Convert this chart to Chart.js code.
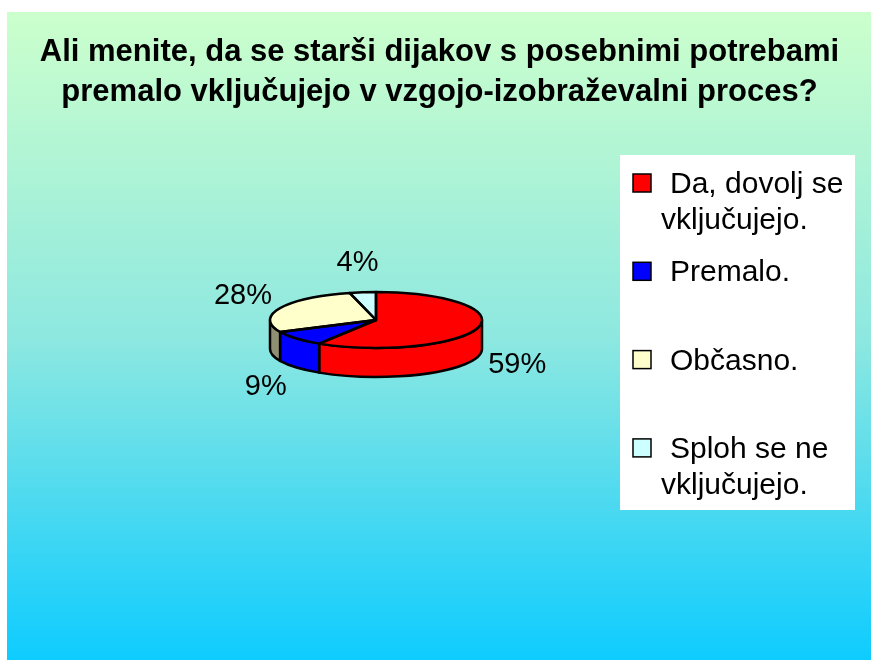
<!DOCTYPE html>
<html>
<head>
<meta charset="utf-8">
<script src="https://cdn.jsdelivr.net/npm/chart.js@4.4.0/dist/chart.umd.min.js"></script>
<style>
  html, body { margin: 0; padding: 0; background: #fff; }
  #wrap { width: 871px; height: 660px; }
</style>
</head>
<body>
<div id="wrap"><canvas id="chart" width="871" height="660"></canvas></div>
<script>
// chart data
const titleLines = [
    'Ali menite, da se starši dijakov s posebnimi potrebami',
    'premalo vključujejo v vzgojo-izobraževalni proces?'
];
const answers = ['Da, dovolj se vključujejo.', 'Premalo.', 'Občasno.', 'Sploh se ne vključujejo.'];
const shares = [59, 9, 28, 4];

// styles
const sliceColors = ['#ff0000', '#0000ff', '#ffffcc', '#ccffff'];
const sideColors = ['#ff0000', '#0000ff', '#8f8f73', '#99cccc'];
const FONT = '"Liberation Sans", Arial, sans-serif';

// where the tilted pie sits on the slide
const PIE = {cx: 376, cy: 320, rx: 106, ry: 28, depth: 29};

/**
 * Splits a label into lines no wider than maxWidth.
 */
function wrapText(ctx, text, maxWidth) {
    const words = text.split(' ');
    const lines = [];
    let line = '';
    words.forEach(word => {
        const test = line ? line + ' ' + word : word;
        if (line && ctx.measureText(test).width > maxWidth) {
            lines.push(line);
            line = word;
        } else {
            line = test;
        }
    });
    if (line) lines.push(line);
    return lines;
}

/**
 * Returns the parts of [s, e] that face the viewer (lower half of the pie).
 */
function frontParts(s, e) {
    const parts = [];
    for (const base of [-2 * Math.PI, 0, 2 * Math.PI]) {
        const a = Math.max(s, base);
        const b = Math.min(e, base + Math.PI);
        if (b > a) parts.push([a, b]);
    }
    return parts;
}

const slideBackground = {
    id: 'slideBackground',
    beforeDraw(chart) {
        const {ctx, width, height} = chart;
        ctx.save();
        ctx.fillStyle = '#fff';
        ctx.fillRect(0, 0, width, height);
        const g = ctx.createLinearGradient(0, 12, 0, height);
        g.addColorStop(0, '#ccffcc');
        g.addColorStop(0.5, '#8ee8e0');
        g.addColorStop(1, '#0eccff');
        ctx.fillStyle = g;
        ctx.fillRect(7, 12, width - 7, height - 12);
        ctx.restore();
    }
};

const pie3d = {
    id: 'pie3d',
    beforeDatasetsDraw(chart) {
        const {ctx} = chart;
        const arcs = chart.getDatasetMeta(0).data;
        const {cx, cy, rx, ry, depth} = PIE;
        // sides first, so the top face covers them
        ctx.save();
        ctx.lineWidth = 2.5;
        ctx.strokeStyle = '#000';
        ctx.lineJoin = 'round';
        arcs.forEach((arc, i) => {
            frontParts(arc.startAngle, arc.endAngle).forEach(([a, b]) => {
                ctx.beginPath();
                ctx.ellipse(cx, cy, rx, ry, 0, a, b);
                ctx.lineTo(cx + rx * Math.cos(b), cy + ry * Math.sin(b) + depth);
                ctx.ellipse(cx, cy + depth, rx, ry, 0, b, a, true);
                ctx.closePath();
                ctx.fillStyle = sideColors[i];
                ctx.fill();
                ctx.stroke();
            });
        });
        ctx.restore();
        // squash the library's flat pie into the tilted top face
        ctx.save();
        ctx.translate(cx, cy);
        ctx.scale(1, ry / rx);
        ctx.translate(-arcs[0].x, -arcs[0].y);
    },
    afterDatasetsDraw(chart) {
        const {ctx} = chart;
        ctx.restore();
        const arcs = chart.getDatasetMeta(0).data;
        const values = chart.data.datasets[0].data;
        const {cx, cy, rx, ry, depth} = PIE;
        ctx.save();
        ctx.lineWidth = 2.5;
        ctx.strokeStyle = '#000';
        ctx.lineJoin = 'round';
        arcs.forEach(arc => {
            ctx.beginPath();
            ctx.moveTo(cx, cy);
            ctx.lineTo(cx + rx * Math.cos(arc.startAngle), cy + ry * Math.sin(arc.startAngle));
            ctx.ellipse(cx, cy, rx, ry, 0, arc.startAngle, arc.endAngle);
            ctx.closePath();
            ctx.stroke();
        });
        ctx.fillStyle = '#000';
        ctx.font = `29px ${FONT}`;
        ctx.textAlign = 'center';
        ctx.textBaseline = 'middle';
        arcs.forEach((arc, i) => {
            const mid = (arc.startAngle + arc.endAngle) / 2;
            const s = Math.sin(mid);
            const x = cx + 147 * Math.cos(mid);
            const y = cy + 57 * s + (s > 0 ? depth : 0);
            ctx.fillText(values[i] + '%', x, y);
        });
        ctx.restore();
    }
};

const sideLegend = {
    id: 'sideLegend',
    afterDraw(chart) {
        const {ctx} = chart;
        ctx.save();
        ctx.fillStyle = '#fff';
        ctx.fillRect(620, 155, 235, 355);
        ctx.font = `30px ${FONT}`;
        ctx.textBaseline = 'alphabetic';
        chart.data.labels.forEach((label, i) => {
            const base = 193 + i * 88.3;
            ctx.fillStyle = sliceColors[i];
            ctx.fillRect(633, base - 19, 18, 18);
            ctx.lineWidth = 1.5;
            ctx.strokeStyle = '#000';
            ctx.strokeRect(633, base - 19, 18, 18);
            ctx.fillStyle = '#000';
            wrapText(ctx, label, 184).forEach((line, j) => {
                ctx.fillText(line, j === 0 ? 670 : 661, base + j * 36);
            });
        });
        ctx.restore();
    }
};

new Chart(document.getElementById('chart'), {
    type: 'pie',
    plugins: [slideBackground, pie3d, sideLegend],
    data: {
        labels: answers,
        datasets: [{
            data: shares,
            backgroundColor: sliceColors,
            borderWidth: 0,
            hoverOffset: 0,
            radius: PIE.rx,
            clip: false
        }]
    },
    options: {
        responsive: false,
        animation: false,
        devicePixelRatio: 1,
        events: [],
        layout: {padding: {left: 8}},
        plugins: {
            legend: {display: false},
            tooltip: {enabled: false},
            title: {
                display: true,
                text: titleLines,
                color: '#000',
                font: {family: FONT, size: 31, weight: 'bold', lineHeight: 1.27},
                padding: {top: 33, bottom: 10}
            }
        }
    }
});
</script>
</body>
</html>
